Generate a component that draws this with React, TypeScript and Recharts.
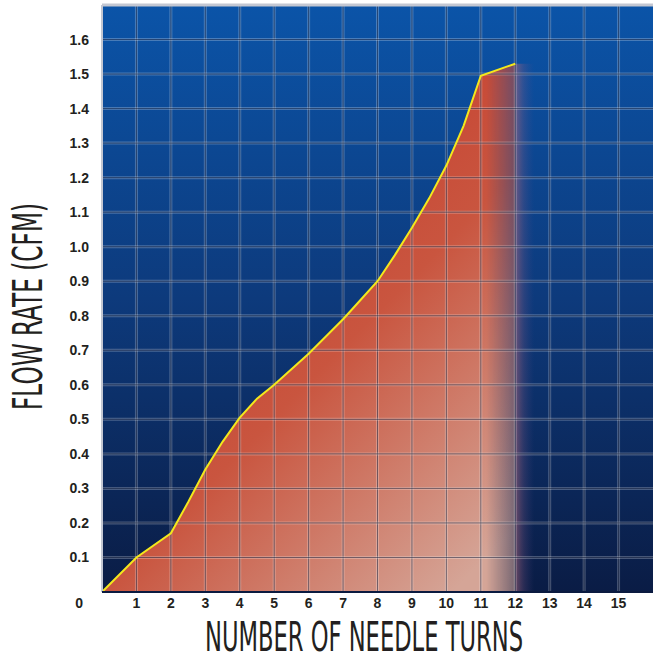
import { ComposedChart, Area, Line, XAxis, YAxis, ReferenceArea, ReferenceLine } from 'recharts';

// needle turns vs flow rate
const turns = [0, 1, 2, 2.5, 3, 3.5, 4, 4.5, 5, 5.5, 6, 6.5, 7, 7.5, 8, 8.5, 9, 9.5, 10, 10.5, 11, 12];
const flowRate = [0, 0.1, 0.17, 0.26, 0.355, 0.435, 0.505, 0.56, 0.6, 0.645, 0.69, 0.74, 0.79, 0.845, 0.9, 0.975, 1.055, 1.14, 1.235, 1.35, 1.495, 1.53];

const xTicks = [1, 2, 3, 4, 5, 6, 7, 8, 9, 10, 11, 12, 13, 14, 15];
const yTicks = [0, 0.1, 0.2, 0.3, 0.4, 0.5, 0.6, 0.7, 0.8, 0.9, 1.0, 1.1, 1.2, 1.3, 1.4, 1.5, 1.6];

const data = turns.map((t, i) => ({ turns: t, flow: flowRate[i] }));

const tickFont = { fontFamily: '"Liberation Sans", Arial, sans-serif', fontWeight: 700, fontSize: 14, fill: '#231f20' };
const titleFont = '"Liberation Sans Narrow", "DejaVu Sans Condensed", "Liberation Sans", sans-serif';

const YTick = ({ x, y, payload }: any) => {
  const zero = payload.value === 0;
  return (
    <text x={zero ? x - 6 : x} y={zero ? y + 11 : y} textAnchor="end" dominantBaseline="central" {...tickFont}>
      {zero ? '0' : payload.value.toFixed(1)}
    </text>
  );
};

const XTick = ({ x, y, payload }: any) => (
  <text x={x} y={y} textAnchor="middle" dominantBaseline="central" {...tickFont}>
    {payload.value}
  </text>
);

// grid drawn as reference lines so it sits above the red fill
const gridLines = (key: string, isX: boolean, values: number[]) =>
  values.flatMap((v) => [
    <ReferenceLine key={`${key}-l-${v}`} {...(isX ? { x: v } : { y: v })} stroke="rgba(255,255,255,0.25)" strokeWidth={3} />,
    <ReferenceLine key={`${key}-d-${v}`} {...(isX ? { x: v } : { y: v })} stroke="rgba(5,15,45,0.5)" strokeWidth={1} />,
  ]);

export default function App() {
  return (
    <div style={{ position: 'absolute', left: 0, top: 0, width: 653, height: 659, background: '#fff' }}>
      <style>{`.flow-fill .recharts-area-area { mask: url(#fadeMask); }`}</style>
      <ComposedChart width={653} height={659} data={data} margin={{ top: 5, right: 0, bottom: 0, left: 0 }}>
        <defs>
          <linearGradient id="bgGrad" x1="0" y1="0" x2="0" y2="1">
            <stop offset="0%" stopColor="#0b54a8" />
            <stop offset="50%" stopColor="#0d3a7c" />
            <stop offset="100%" stopColor="#0a1c45" />
          </linearGradient>
          <linearGradient id="redGrad" x1="0.25" y1="0.25" x2="0.85" y2="1">
            <stop offset="0%" stopColor="#c63e2e" />
            <stop offset="45%" stopColor="#c9553f" />
            <stop offset="100%" stopColor="#d5a597" />
          </linearGradient>
          <linearGradient id="fadeGrad" x1="0" y1="0" x2="1" y2="0">
            <stop offset="0%" stopColor="#fff" />
            <stop offset="93%" stopColor="#fff" />
            <stop offset="100%" stopColor="#8a8a8a" />
          </linearGradient>
          <mask id="fadeMask" maskUnits="objectBoundingBox" maskContentUnits="objectBoundingBox">
            <rect x="0" y="0" width="1" height="1" fill="url(#fadeGrad)" />
          </mask>
          <linearGradient id="glowGrad" x1="0" y1="0" x2="1" y2="0">
            <stop offset="0%" stopColor="#b86a78" stopOpacity={0.55} />
            <stop offset="45%" stopColor="#8a5a80" stopOpacity={0.25} />
            <stop offset="100%" stopColor="#5a4a88" stopOpacity={0} />
          </linearGradient>
        </defs>
        <XAxis
          type="number"
          dataKey="turns"
          domain={[0, 16]}
          ticks={xTicks}
          height={67}
          tickSize={0}
          tickMargin={11}
          tick={<XTick />}
          axisLine={false}
          tickLine={false}
        />
        <YAxis
          type="number"
          domain={[0, 1.7]}
          ticks={yTicks}
          width={102}
          tickSize={0}
          tickMargin={13}
          tick={<YTick />}
          axisLine={false}
          tickLine={false}
          interval={0}
        />
        <ReferenceArea x1={0} x2={16} y1={0} y2={1.7} fill="url(#bgGrad)" fillOpacity={1} stroke="none" />
        <Area
          className="flow-fill"
          type="linear"
          dataKey="flow"
          stroke="none"
          fill="url(#redGrad)"
          fillOpacity={1}
          isAnimationActive={false}
        />
        <ReferenceArea x1={12} x2={12.55} y1={0} y2={1.53} fill="url(#glowGrad)" fillOpacity={1} stroke="none" />
        {gridLines('gx', true, xTicks)}
        {gridLines('gy', false, yTicks.slice(1))}
        <Line
          type="linear"
          dataKey="flow"
          stroke="#f3e81c"
          strokeWidth={2}
          dot={false}
          isAnimationActive={false}
        />
        <ReferenceLine y={1.7} stroke="#c3c7d2" strokeWidth={3} />
        <ReferenceLine x={0} stroke="#c3c7d2" strokeWidth={2} />
        <ReferenceLine y={0} stroke="#0a1a40" strokeWidth={2} />
      </ComposedChart>
      <svg width={653} height={659} style={{ position: 'absolute', left: 0, top: 0, pointerEvents: 'none' }}>
        <text
          x={364}
          y={651}
          textAnchor="middle"
          textLength={318}
          lengthAdjust="spacingAndGlyphs"
          fontFamily={titleFont}
          fontSize={40}
          fill="#231f20"
        >
          NUMBER OF NEEDLE TURNS
        </text>
        <text
          x={0}
          y={0}
          transform="translate(42 306.5) rotate(-90)"
          textAnchor="middle"
          textLength={207}
          lengthAdjust="spacingAndGlyphs"
          fontFamily={titleFont}
          fontSize={40}
          fill="#231f20"
        >
          FLOW RATE (CFM)
        </text>
      </svg>
    </div>
  );
}
